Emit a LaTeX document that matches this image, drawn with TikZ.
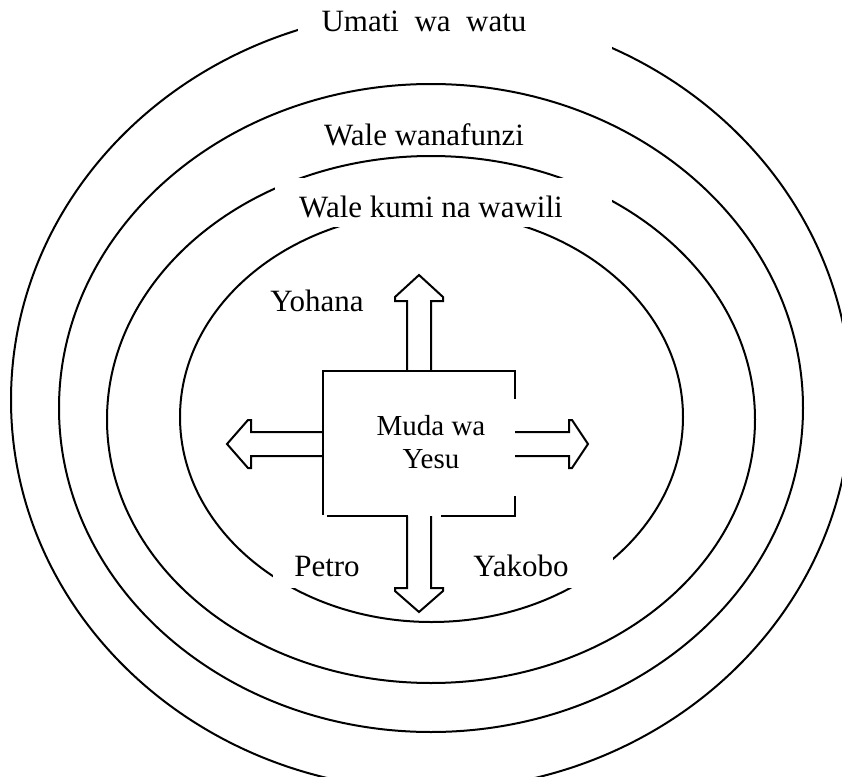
\documentclass[tikz,border=0pt]{standalone}
\usepackage{fontspec}
\setmainfont{Liberation Serif}
\begin{document}
\begin{tikzpicture}[x=0.5pt,y=-0.5pt,
  ring/.style={draw=black, line width=1pt},
  lbl/.style={font=\fontsize{15.5}{18}\selectfont, inner sep=0pt, anchor=base},
  midlbl/.style={font=\fontsize{14.5}{16.5}\selectfont, inner sep=0pt, align=center},
  mask/.style={fill=white, draw=none},
  fat/.style={draw=black, line width=1pt, line join=miter},
  boxline/.style={draw=black, line width=1pt, line cap=rect}]
\useasboundingbox (0,0) rectangle (842,777);
\begin{scope}
\clip (0,0) rectangle (842,777);
% rings
\draw[ring] (431,400) ellipse [x radius=420, y radius=390];
\draw[ring] (431,408) ellipse [x radius=372, y radius=324];
\draw[ring] (431,419.5) ellipse [x radius=324, y radius=263.5];
\draw[ring] (431.5,417) ellipse [x radius=251.5, y radius=205];
\end{scope}
% white label backgrounds
\fill[mask] (298,4) rectangle (612,60);
\fill[mask] (275,178) rectangle (612,227);
\fill[mask] (273,553) rectangle (372,588);
\fill[mask] (462,553) rectangle (613,588);
% labels
\node[lbl] (umati) at (424,31) {Umati~~wa~~watu};
\node[lbl] (wanafunzi) at (424,145) {Wale wanafunzi};
\node[lbl] (kumi) at (431,217) {Wale kumi na wawili};
\node[lbl] (yohana) at (317,311.7) {Yohana};
\node[lbl] (petro) at (327,576.7) {Petro};
\node[lbl] (yakobo) at (521,576.7) {Yakobo};
\node[midlbl] (muda) at (431,442.5) {Muda wa\\Yesu};
% central box (with the small breaks of the original)
\draw[boxline] (323,514) -- (323,371) -- (515,371) -- (515,398);
\draw[boxline] (515,497) -- (515,516) -- (442,516);
\draw[boxline] (328,516) -- (407,516);
% block arrows
\draw[fat] (407,371) -- (407,301) -- (395,301) -- (395,297) -- (419,275)
  -- (443,297) -- (443,301) -- (431,301) -- (431,371);
\draw[fat] (407,516) -- (407,588) -- (395,588) -- (395,591) -- (419,612)
  -- (443,591) -- (443,588) -- (431,588) -- (431,516);
\draw[fat] (323,432) -- (251,432) -- (251,420) -- (248,420) -- (227,444)
  -- (248,468) -- (251,468) -- (251,456) -- (323,456);
\draw[fat] (515,432) -- (569,432) -- (569,420) -- (572,420) -- (588,444)
  -- (572,468) -- (569,468) -- (569,456) -- (515,456);
\end{tikzpicture}
\end{document}
